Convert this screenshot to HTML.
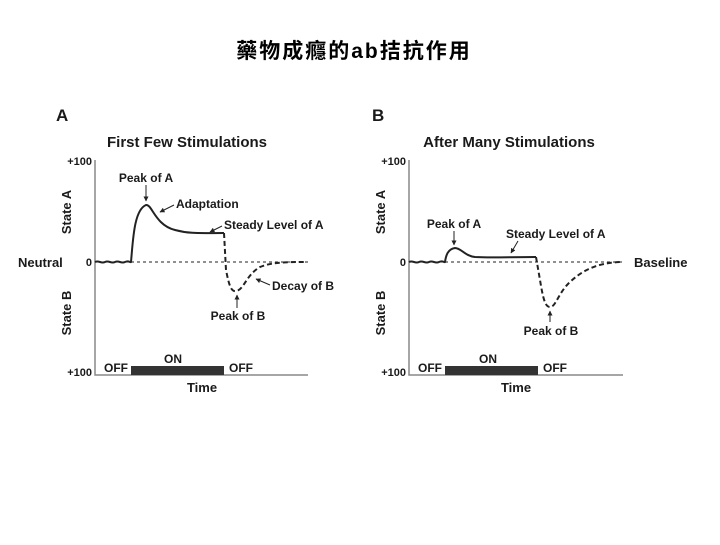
<!DOCTYPE html>
<html><head><meta charset="utf-8"><style>
body{margin:0;width:720px;height:540px;background:#fff;overflow:hidden}
svg text{font-family:"Liberation Sans",Arial,sans-serif;fill:#1a1a1a}
</style></head><body>
<svg width="720" height="540" viewBox="0 0 720 540" xmlns="http://www.w3.org/2000/svg">
<text x="354" y="58" text-anchor="middle" style="font-family:'Liberation Sans','Noto Sans CJK TC',sans-serif;font-weight:bold;font-size:21px;letter-spacing:2px;fill:#000">藥物成癮的ab拮抗作用</text>
<defs><marker id="ar" viewBox="0 0 10 10" refX="9" refY="5" markerWidth="5" markerHeight="5" orient="auto"><path d="M0,0L10,5L0,10z" fill="#222"/></marker></defs>
<!-- Panel A -->
<g font-weight="bold">
<text x="56" y="121" font-size="17">A</text>
<text x="187" y="147" font-size="15" text-anchor="middle">First Few Stimulations</text>
<text x="92" y="165" font-size="11" text-anchor="end">+100</text>
<text x="92" y="266" font-size="11" text-anchor="end">0</text>
<text x="92" y="376" font-size="11" text-anchor="end">+100</text>
<text x="18" y="267" font-size="13">Neutral</text>
<text transform="translate(71,212) rotate(-90)" font-size="13" text-anchor="middle">State A</text>
<text transform="translate(71,313) rotate(-90)" font-size="13" text-anchor="middle">State B</text>
<text x="116" y="372" font-size="12" text-anchor="middle">OFF</text>
<text x="173" y="363" font-size="12" text-anchor="middle">ON</text>
<text x="241" y="372" font-size="12" text-anchor="middle">OFF</text>
<text x="202" y="392" font-size="13" text-anchor="middle">Time</text>
<text x="146" y="182" font-size="12" text-anchor="middle">Peak of A</text>
<text x="176" y="208" font-size="12">Adaptation</text>
<text x="224" y="229" font-size="12">Steady Level of A</text>
<text x="272" y="290" font-size="12">Decay of B</text>
<text x="238" y="320" font-size="12" text-anchor="middle">Peak of B</text>
</g>
<path d="M95,160V375H308" fill="none" stroke="#888" stroke-width="1.5"/>
<line x1="95" y1="262" x2="308" y2="262" stroke="#222" stroke-dasharray="3,3"/>
<rect x="131" y="366" width="93" height="9" fill="#333"/>
<path d="M95,262c4,-2 6,2 10,0s6,2 10,0s6,2 10,0 5,1 6,0C133,240 134,210 146,205C152,204 155,225 175,230C190,234 200,233 224,233" fill="none" stroke="#222" stroke-width="2"/>
<path d="M224,233L226,270C229,285 231,292 236,291C244,290 246,275 260,267C270,263 280,262 305,262" fill="none" stroke="#222" stroke-width="2" stroke-dasharray="5,3"/>
<line x1="146" y1="185" x2="146" y2="201" stroke="#222" marker-end="url(#ar)"/>
<line x1="174" y1="205" x2="160" y2="212" stroke="#222" marker-end="url(#ar)"/>
<line x1="222" y1="226" x2="210" y2="232" stroke="#222" marker-end="url(#ar)"/>
<line x1="270" y1="285" x2="256" y2="279" stroke="#222" marker-end="url(#ar)"/>
<line x1="237" y1="308" x2="237" y2="295" stroke="#222" marker-end="url(#ar)"/>
<!-- Panel B -->
<g font-weight="bold">
<text x="372" y="121" font-size="17">B</text>
<text x="509" y="147" font-size="15" text-anchor="middle">After Many Stimulations</text>
<text x="406" y="165" font-size="11" text-anchor="end">+100</text>
<text x="406" y="266" font-size="11" text-anchor="end">0</text>
<text x="406" y="376" font-size="11" text-anchor="end">+100</text>
<text x="634" y="267" font-size="13">Baseline</text>
<text transform="translate(385,212) rotate(-90)" font-size="13" text-anchor="middle">State A</text>
<text transform="translate(385,313) rotate(-90)" font-size="13" text-anchor="middle">State B</text>
<text x="430" y="372" font-size="12" text-anchor="middle">OFF</text>
<text x="488" y="363" font-size="12" text-anchor="middle">ON</text>
<text x="555" y="372" font-size="12" text-anchor="middle">OFF</text>
<text x="516" y="392" font-size="13" text-anchor="middle">Time</text>
<text x="454" y="228" font-size="12" text-anchor="middle">Peak of A</text>
<text x="506" y="238" font-size="12">Steady Level of A</text>
<text x="551" y="335" font-size="12" text-anchor="middle">Peak of B</text>
</g>
<path d="M409,160V375H623" fill="none" stroke="#888" stroke-width="1.5"/>
<line x1="409" y1="262" x2="623" y2="262" stroke="#222" stroke-dasharray="3,3"/>
<rect x="445" y="366" width="93" height="9" fill="#333"/>
<path d="M409,262c4,-2 6,2 10,0s6,2 10,0s6,2 10,0 5,1 6,0C446,255 448,249 455,248C461,248 465,256 475,257C490,258 510,257 536,257" fill="none" stroke="#222" stroke-width="2"/>
<path d="M536,257L540,280C543,298 545,307 550,307C556,307 558,293 570,282C585,268 600,263 620,262" fill="none" stroke="#222" stroke-width="2" stroke-dasharray="5,3"/>
<line x1="454" y1="231" x2="454" y2="245" stroke="#222" marker-end="url(#ar)"/>
<line x1="518" y1="241" x2="511" y2="253" stroke="#222" marker-end="url(#ar)"/>
<line x1="550" y1="322" x2="550" y2="311" stroke="#222" marker-end="url(#ar)"/>
</svg>
</body></html>
